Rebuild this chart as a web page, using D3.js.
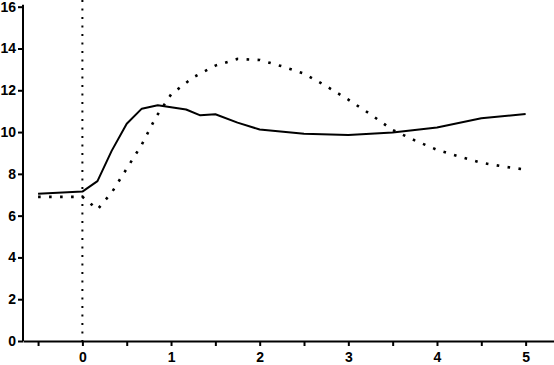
<!DOCTYPE html>
<html>
<head>
<meta charset="utf-8">
<script src="https://cdn.jsdelivr.net/npm/d3@7/dist/d3.min.js"></script>
<style>
  html, body { margin: 0; padding: 0; background: #fff; }
  svg { display: block; }
  .axis text { font-family: "Liberation Sans", Arial, sans-serif; font-weight: bold; font-size: 14px; fill: #000; }
</style>
</head>
<body>
<svg id="chart" width="554" height="365"></svg>
<script>
// Solid series
const solidX = [-0.5, 0, 0.17, 0.33, 0.5, 0.67, 0.85, 1.17, 1.33, 1.5, 1.75, 2, 2.5, 3, 3.5, 4, 4.5, 5];
const solidY = [7.05, 7.15, 7.65, 9.1, 10.4, 11.12, 11.28, 11.08, 10.8, 10.85, 10.45, 10.12, 9.92, 9.86, 9.98, 10.22, 10.66, 10.87];
// Dotted series
const dottedX = [-0.5, 0, 0.17, 0.33, 0.5, 0.67, 0.83, 1, 1.25, 1.5, 1.75, 2, 2.25, 2.5, 2.75, 3, 3.25, 3.5, 3.75, 4, 4.25, 4.5, 4.75, 5];
const dottedY = [6.9, 6.9, 6.3, 7.1, 8.25, 9.4, 10.72, 11.8, 12.62, 13.18, 13.5, 13.45, 13.15, 12.8, 12.2, 11.55, 10.85, 10.1, 9.6, 9.15, 8.83, 8.53, 8.35, 8.2];
// Axis ticks
const xTicks = [-0.5, 0, 0.5, 1, 1.5, 2, 2.5, 3, 3.5, 4, 4.5, 5];
const xLabels = [0, 1, 2, 3, 4, 5];
const yTicks = [0, 2, 4, 6, 8, 10, 12, 14, 16];
const markerX = 0;

const svg = d3.select("#chart");
const x = d3.scaleLinear().domain([-0.67, 5.32]).range([23, 554]);
const y = d3.scaleLinear().domain([0, 16]).range([341, 6.7]);

// Axes
const xAxis = d3.axisBottom(x)
  .tickValues(xTicks)
  .tickSize(5)
  .tickSizeOuter(0)
  .tickPadding(6)
  .tickFormat(d => xLabels.includes(d) ? String(d) : "");
const gx = svg.append("g").attr("class", "axis").attr("transform", `translate(0,${y(0)})`).call(xAxis);
gx.selectAll("path, line").attr("stroke", "#000").attr("stroke-width", 2);

const yAxis = d3.axisLeft(y)
  .tickValues(yTicks)
  .tickSize(5)
  .tickSizeOuter(0)
  .tickPadding(2)
  .tickFormat(d3.format("d"));
const gy = svg.append("g").attr("class", "axis").attr("transform", `translate(${x.range()[0]},0)`).call(yAxis);
gy.selectAll("path, line").attr("stroke", "#000").attr("stroke-width", 2);
gy.select(".domain").attr("d", `M0,${y(16) - 2}V${y(0)}`);

// Vertical dotted marker at x=0
svg.append("line")
  .attr("x1", x(markerX)).attr("x2", x(markerX))
  .attr("y1", 0).attr("y2", y(0))
  .attr("stroke", "#000").attr("stroke-width", 2)
  .attr("stroke-dasharray", "2 6.5");

const line = d3.line().x(d => x(d[0])).y(d => y(d[1]));

svg.append("path")
  .datum(solidX.map((v, i) => [v, solidY[i]]))
  .attr("fill", "none").attr("stroke", "#000").attr("stroke-width", 2)
  .attr("stroke-linejoin", "round")
  .attr("d", line);

svg.append("path")
  .datum(dottedX.map((v, i) => [v, dottedY[i]]))
  .attr("fill", "none").attr("stroke", "#000").attr("stroke-width", 2.6)
  .attr("stroke-dasharray", "2.6 8.4")
  .attr("d", line);
</script>
</body>
</html>
